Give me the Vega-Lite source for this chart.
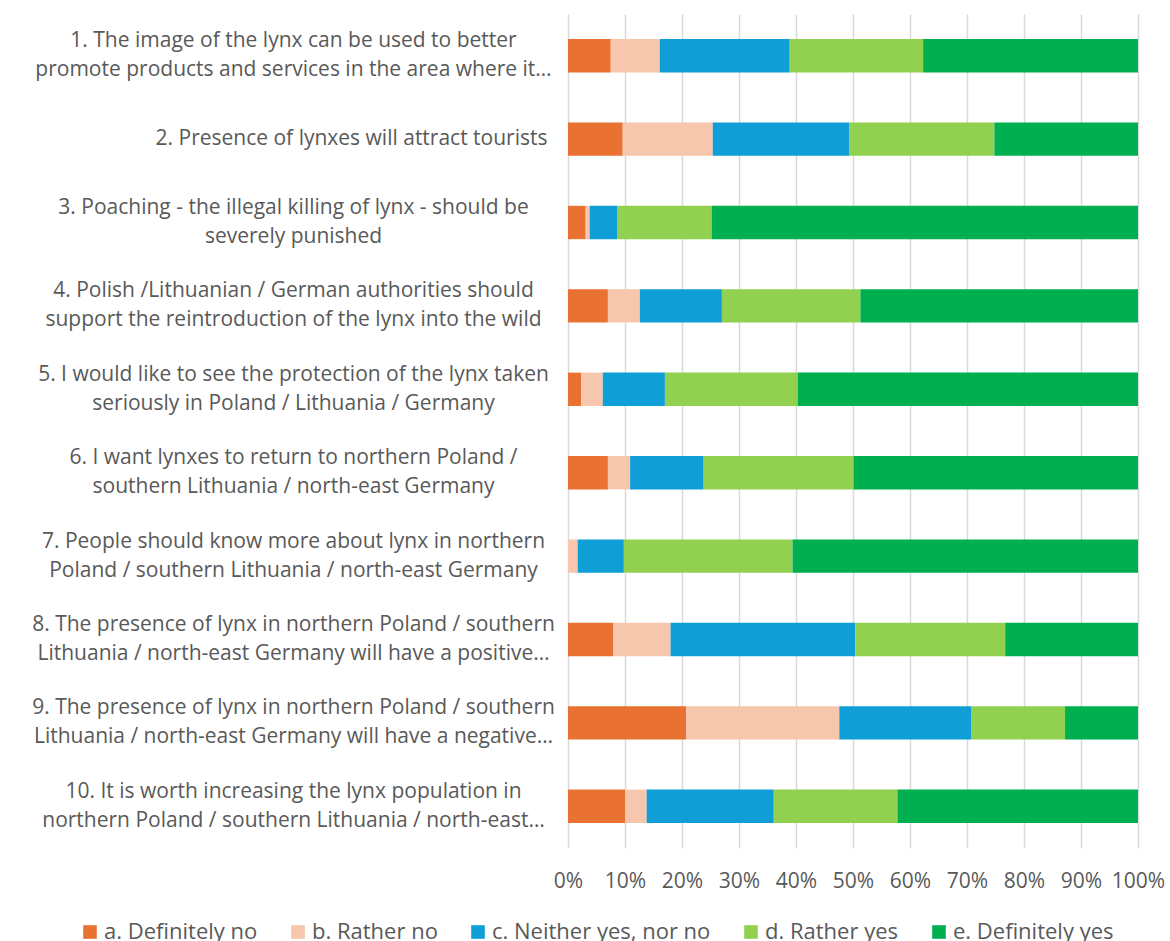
{
  "$schema": "https://vega.github.io/schema/vega-lite/v6.json",
  "width": 570,
  "height": 834,
  "autosize": "none",
  "padding": {"left": 568, "top": 14, "right": 32, "bottom": 93},
  "background": "white",
  "config": {
    "view": {"stroke": null},
    "font": "Open Sans",
    "axis": {"labelFont": "Open Sans", "labelColor": "#595959"},
    "legend": {"labelFont": "Open Sans", "labelColor": "#595959"}
  },
  "data": {
    "values": [
      {"q": "1. The image of the lynx can be used to better|promote products and services in the area where it…", "o": 1, "cat": "a. Definitely no", "k": 1, "v": 0.075},
      {"q": "1. The image of the lynx can be used to better|promote products and services in the area where it…", "o": 1, "cat": "b. Rather no", "k": 2, "v": 0.086},
      {"q": "1. The image of the lynx can be used to better|promote products and services in the area where it…", "o": 1, "cat": "c. Neither yes, nor no", "k": 3, "v": 0.228},
      {"q": "1. The image of the lynx can be used to better|promote products and services in the area where it…", "o": 1, "cat": "d. Rather yes", "k": 4, "v": 0.234},
      {"q": "1. The image of the lynx can be used to better|promote products and services in the area where it…", "o": 1, "cat": "e. Definitely yes", "k": 5, "v": 0.377},

      {"q": "2. Presence of lynxes will attract tourists", "o": 2, "cat": "a. Definitely no", "k": 1, "v": 0.096},
      {"q": "2. Presence of lynxes will attract tourists", "o": 2, "cat": "b. Rather no", "k": 2, "v": 0.158},
      {"q": "2. Presence of lynxes will attract tourists", "o": 2, "cat": "c. Neither yes, nor no", "k": 3, "v": 0.240},
      {"q": "2. Presence of lynxes will attract tourists", "o": 2, "cat": "d. Rather yes", "k": 4, "v": 0.254},
      {"q": "2. Presence of lynxes will attract tourists", "o": 2, "cat": "e. Definitely yes", "k": 5, "v": 0.252},

      {"q": "3. Poaching - the illegal killing of lynx - should be|severely punished", "o": 3, "cat": "a. Definitely no", "k": 1, "v": 0.031},
      {"q": "3. Poaching - the illegal killing of lynx - should be|severely punished", "o": 3, "cat": "b. Rather no", "k": 2, "v": 0.007},
      {"q": "3. Poaching - the illegal killing of lynx - should be|severely punished", "o": 3, "cat": "c. Neither yes, nor no", "k": 3, "v": 0.048},
      {"q": "3. Poaching - the illegal killing of lynx - should be|severely punished", "o": 3, "cat": "d. Rather yes", "k": 4, "v": 0.166},
      {"q": "3. Poaching - the illegal killing of lynx - should be|severely punished", "o": 3, "cat": "e. Definitely yes", "k": 5, "v": 0.748},

      {"q": "4. Polish /Lithuanian / German authorities should|support the reintroduction of the lynx into the wild", "o": 4, "cat": "a. Definitely no", "k": 1, "v": 0.070},
      {"q": "4. Polish /Lithuanian / German authorities should|support the reintroduction of the lynx into the wild", "o": 4, "cat": "b. Rather no", "k": 2, "v": 0.056},
      {"q": "4. Polish /Lithuanian / German authorities should|support the reintroduction of the lynx into the wild", "o": 4, "cat": "c. Neither yes, nor no", "k": 3, "v": 0.144},
      {"q": "4. Polish /Lithuanian / German authorities should|support the reintroduction of the lynx into the wild", "o": 4, "cat": "d. Rather yes", "k": 4, "v": 0.243},
      {"q": "4. Polish /Lithuanian / German authorities should|support the reintroduction of the lynx into the wild", "o": 4, "cat": "e. Definitely yes", "k": 5, "v": 0.487},

      {"q": "5. I would like to see the protection of the lynx taken|seriously in Poland / Lithuania / Germany", "o": 5, "cat": "a. Definitely no", "k": 1, "v": 0.023},
      {"q": "5. I would like to see the protection of the lynx taken|seriously in Poland / Lithuania / Germany", "o": 5, "cat": "b. Rather no", "k": 2, "v": 0.038},
      {"q": "5. I would like to see the protection of the lynx taken|seriously in Poland / Lithuania / Germany", "o": 5, "cat": "c. Neither yes, nor no", "k": 3, "v": 0.109},
      {"q": "5. I would like to see the protection of the lynx taken|seriously in Poland / Lithuania / Germany", "o": 5, "cat": "d. Rather yes", "k": 4, "v": 0.233},
      {"q": "5. I would like to see the protection of the lynx taken|seriously in Poland / Lithuania / Germany", "o": 5, "cat": "e. Definitely yes", "k": 5, "v": 0.597},

      {"q": "6. I want lynxes to return to northern Poland /|southern Lithuania / north-east Germany", "o": 6, "cat": "a. Definitely no", "k": 1, "v": 0.070},
      {"q": "6. I want lynxes to return to northern Poland /|southern Lithuania / north-east Germany", "o": 6, "cat": "b. Rather no", "k": 2, "v": 0.039},
      {"q": "6. I want lynxes to return to northern Poland /|southern Lithuania / north-east Germany", "o": 6, "cat": "c. Neither yes, nor no", "k": 3, "v": 0.129},
      {"q": "6. I want lynxes to return to northern Poland /|southern Lithuania / north-east Germany", "o": 6, "cat": "d. Rather yes", "k": 4, "v": 0.263},
      {"q": "6. I want lynxes to return to northern Poland /|southern Lithuania / north-east Germany", "o": 6, "cat": "e. Definitely yes", "k": 5, "v": 0.499},

      {"q": "7. People should know more about lynx in northern|Poland / southern Lithuania / north-east Germany", "o": 7, "cat": "a. Definitely no", "k": 1, "v": 0.0},
      {"q": "7. People should know more about lynx in northern|Poland / southern Lithuania / north-east Germany", "o": 7, "cat": "b. Rather no", "k": 2, "v": 0.017},
      {"q": "7. People should know more about lynx in northern|Poland / southern Lithuania / north-east Germany", "o": 7, "cat": "c. Neither yes, nor no", "k": 3, "v": 0.081},
      {"q": "7. People should know more about lynx in northern|Poland / southern Lithuania / north-east Germany", "o": 7, "cat": "d. Rather yes", "k": 4, "v": 0.296},
      {"q": "7. People should know more about lynx in northern|Poland / southern Lithuania / north-east Germany", "o": 7, "cat": "e. Definitely yes", "k": 5, "v": 0.606},

      {"q": "8. The presence of lynx in northern Poland / southern|Lithuania / north-east Germany will have a positive…", "o": 8, "cat": "a. Definitely no", "k": 1, "v": 0.079},
      {"q": "8. The presence of lynx in northern Poland / southern|Lithuania / north-east Germany will have a positive…", "o": 8, "cat": "b. Rather no", "k": 2, "v": 0.101},
      {"q": "8. The presence of lynx in northern Poland / southern|Lithuania / north-east Germany will have a positive…", "o": 8, "cat": "c. Neither yes, nor no", "k": 3, "v": 0.324},
      {"q": "8. The presence of lynx in northern Poland / southern|Lithuania / north-east Germany will have a positive…", "o": 8, "cat": "d. Rather yes", "k": 4, "v": 0.263},
      {"q": "8. The presence of lynx in northern Poland / southern|Lithuania / north-east Germany will have a positive…", "o": 8, "cat": "e. Definitely yes", "k": 5, "v": 0.233},

      {"q": "9. The presence of lynx in northern Poland / southern|Lithuania / north-east Germany will have a negative…", "o": 9, "cat": "a. Definitely no", "k": 1, "v": 0.207},
      {"q": "9. The presence of lynx in northern Poland / southern|Lithuania / north-east Germany will have a negative…", "o": 9, "cat": "b. Rather no", "k": 2, "v": 0.269},
      {"q": "9. The presence of lynx in northern Poland / southern|Lithuania / north-east Germany will have a negative…", "o": 9, "cat": "c. Neither yes, nor no", "k": 3, "v": 0.232},
      {"q": "9. The presence of lynx in northern Poland / southern|Lithuania / north-east Germany will have a negative…", "o": 9, "cat": "d. Rather yes", "k": 4, "v": 0.164},
      {"q": "9. The presence of lynx in northern Poland / southern|Lithuania / north-east Germany will have a negative…", "o": 9, "cat": "e. Definitely yes", "k": 5, "v": 0.128},

      {"q": "10.  It is worth increasing the lynx population in|northern Poland / southern Lithuania / north-east…", "o": 10, "cat": "a. Definitely no", "k": 1, "v": 0.100},
      {"q": "10.  It is worth increasing the lynx population in|northern Poland / southern Lithuania / north-east…", "o": 10, "cat": "b. Rather no", "k": 2, "v": 0.038},
      {"q": "10.  It is worth increasing the lynx population in|northern Poland / southern Lithuania / north-east…", "o": 10, "cat": "c. Neither yes, nor no", "k": 3, "v": 0.223},
      {"q": "10.  It is worth increasing the lynx population in|northern Poland / southern Lithuania / north-east…", "o": 10, "cat": "d. Rather yes", "k": 4, "v": 0.217},
      {"q": "10.  It is worth increasing the lynx population in|northern Poland / southern Lithuania / north-east…", "o": 10, "cat": "e. Definitely yes", "k": 5, "v": 0.422}
    ]
  },
  "mark": {"type": "bar"},
  "encoding": {
    "y": {
      "field": "q",
      "type": "nominal",
      "sort": {"field": "o", "order": "ascending"},
      "scale": {"paddingInner": 0.6, "paddingOuter": 0.3},
      "axis": {
        "title": null,
        "domain": false,
        "ticks": false,
        "labelFontSize": 21,
        "labelLineHeight": 29,
        "labelLimit": 0,
        "labelAlign": {"condition": {"test": "indexof(datum.value, '|') >= 0", "value": "center"}, "value": "right"},
        "labelPadding": {"condition": {"test": "indexof(datum.value, '|') >= 0", "value": 275}, "value": 21},
        "labelOffset": {"condition": {"test": "indexof(datum.value, '|') >= 0", "value": -14.5}, "value": 0},
        "labelExpr": "split(datum.value, '|')"
      }
    },
    "x": {
      "field": "v",
      "type": "quantitative",
      "stack": "zero",
      "scale": {"domain": [0, 1], "nice": false},
      "axis": {
        "title": null,
        "format": ".0%",
        "values": [0, 0.1, 0.2, 0.3, 0.4, 0.5, 0.6, 0.7, 0.8, 0.9, 1],
        "domain": false,
        "ticks": false,
        "grid": true,
        "gridColor": "#d9d9d9",
        "gridWidth": 1.5,
        "labelPadding": 22,
        "labelFontSize": 21,
        "labelFlush": false
      }
    },
    "color": {
      "field": "cat",
      "type": "nominal",
      "scale": {
        "domain": ["a. Definitely no", "b. Rather no", "c. Neither yes, nor no", "d. Rather yes", "e. Definitely yes"],
        "range": ["#E97132", "#F6C6AD", "#0F9ED5", "#92D050", "#00B050"]
      },
      "legend": {
        "title": null,
        "orient": "none",
        "direction": "horizontal",
        "columns": 5,
        "legendX": -489,
        "legendY": 907,
        "padding": 0,
        "symbolType": "square",
        "symbolSize": 185,
        "symbolStrokeWidth": 0,
        "symbolOpacity": 1,
        "labelFontSize": 22,
        "labelOffset": 3,
        "columnPadding": 29,
        "labelLimit": 0
      }
    },
    "order": {"field": "k", "type": "quantitative"}
  }
}
